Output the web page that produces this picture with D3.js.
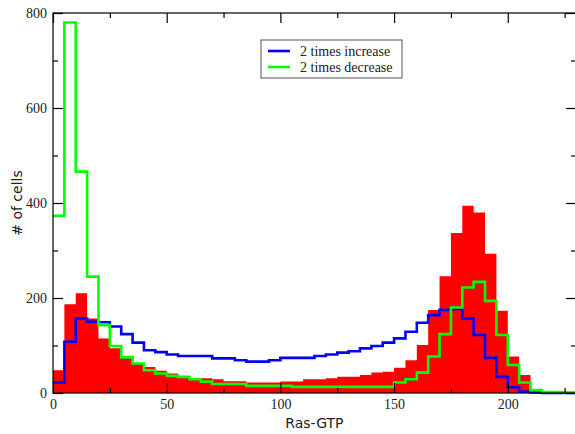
<!DOCTYPE html>
<html><head><meta charset="utf-8">
<script src="https://cdn.jsdelivr.net/npm/d3@7"></script>
<style>body{margin:0;background:#fff}svg{display:block}</style>
</head><body>
<svg id="c" width="575" height="434"></svg>
<script>
const binWidth = 5;
const binStarts = d3.range(0, 230, 5);
const redCounts = [48,187,210,157,115,94,76,62,55,47,41,36,31,31,29,25,25,22,22,22,24,24,29,29,31,34,34,38,43,45,53,69,101,175,246,337,394,380,293,173,77,38,8,2,1,0];
const blueCounts = [22,108,157,150,149,140,124,106,90,86,81,78,78,78,73,73,69,66,66,69,74,74,74,78,81,85,88,94,99,106,115,129,148,164,175,177,157,122,74,34,12,3,1,0,0,0];
const greenCounts = [373,780,466,245,143,99,75,62,48,41,36,34,29,24,19,19,19,15,15,15,15,13,13,13,13,13,13,13,13,13,22,29,43,77,124,180,222,234,194,122,59,22,6,2,2,1];
const xTicks = [0,50,100,150,200];
const yTicks = [0,200,400,600,800];
const legendLabels = ["2 times increase","2 times decrease"];

const svg = d3.select("#c");
const x = d3.scaleLinear().domain([0,230]).range([53,576]);
const y = d3.scaleLinear().domain([0,800]).range([393,13]);

function stepPts(counts){
  const pts=[];
  counts.forEach((v,i)=>{pts.push([binStarts[i],v]);pts.push([binStarts[i]+binWidth,v]);});
  return pts;
}
const area = d3.area().x(d=>x(d[0])).y0(y(0)).y1(d=>y(d[1]));
svg.append("path").datum(stepPts(redCounts)).attr("d",area).attr("fill","#ff0000");

const line = d3.line().x(d=>x(d[0])).y(d=>y(d[1]));
svg.append("path").datum(stepPts(blueCounts)).attr("d",line).attr("fill","none").attr("stroke","#0000ff").attr("stroke-width",2.6);
svg.append("path").datum(stepPts(greenCounts)).attr("d",line).attr("fill","none").attr("stroke","#00ff00").attr("stroke-width",2.6);

svg.append("rect").attr("x",53).attr("y",13).attr("width",523).attr("height",380)
  .attr("fill","none").attr("stroke","#000").attr("stroke-width",1.2);

const xMinor = d3.range(25,230,50);
const yMinor = d3.range(100,800,200);
svg.append("g").attr("transform",`translate(0,${y(0)})`)
  .call(d3.axisBottom(x).tickValues(xTicks).tickSize(-10).tickFormat(d3.format("d")).tickPadding(6));
svg.append("g").attr("transform",`translate(0,${y(0)})`)
  .call(d3.axisBottom(x).tickValues(xMinor).tickSize(-5).tickFormat(""));
svg.append("g").attr("transform",`translate(0,${y(800)})`)
  .call(d3.axisTop(x).tickValues(xTicks).tickSize(-10).tickFormat(""));
svg.append("g").attr("transform",`translate(0,${y(800)})`)
  .call(d3.axisTop(x).tickValues(xMinor).tickSize(-5).tickFormat(""));
svg.append("g").attr("transform",`translate(${x(0)},0)`)
  .call(d3.axisLeft(y).tickValues(yTicks).tickSize(-10).tickFormat(d3.format("d")).tickPadding(6));
svg.append("g").attr("transform",`translate(${x(0)},0)`)
  .call(d3.axisLeft(y).tickValues(yMinor).tickSize(-5).tickFormat(""));
svg.append("g").attr("transform",`translate(${x(230)},0)`)
  .call(d3.axisRight(y).tickValues(yTicks).tickSize(-10).tickFormat(""));
svg.append("g").attr("transform",`translate(${x(230)},0)`)
  .call(d3.axisRight(y).tickValues(yMinor).tickSize(-5).tickFormat(""));
svg.selectAll(".domain").remove();
svg.selectAll(".tick line").attr("stroke","#000").attr("stroke-width",1.2);
svg.selectAll(".tick text").attr("font-family","'Liberation Serif', serif").attr("font-size",14).attr("fill","#222");

svg.append("text").attr("x",x(100)+34).attr("y",428).attr("text-anchor","middle")
  .attr("font-family","'DejaVu Sans', sans-serif").attr("font-size",14).attr("fill","#222").text("Ras-GTP");
svg.append("text").attr("transform","translate(22,203) rotate(-90)").attr("text-anchor","middle")
  .attr("font-family","'DejaVu Sans', sans-serif").attr("font-size",14).attr("fill","#222").text("# of cells");

const lg = svg.append("g");
lg.append("rect").attr("x",261).attr("y",40).attr("width",141).attr("height",38)
  .attr("fill","#fff").attr("stroke","#555").attr("stroke-width",1);
const lc = ["#0000ff","#00ff00"];
legendLabels.forEach((t,i)=>{
  const yy = 51 + i*16;
  lg.append("line").attr("x1",268).attr("x2",290).attr("y1",yy).attr("y2",yy).attr("stroke",lc[i]).attr("stroke-width",2.6);
  lg.append("text").attr("x",300).attr("y",yy+4.5).attr("font-family","'Liberation Serif', serif")
    .attr("font-size",14).attr("fill","#222").text(t);
});
</script>
</body></html>
